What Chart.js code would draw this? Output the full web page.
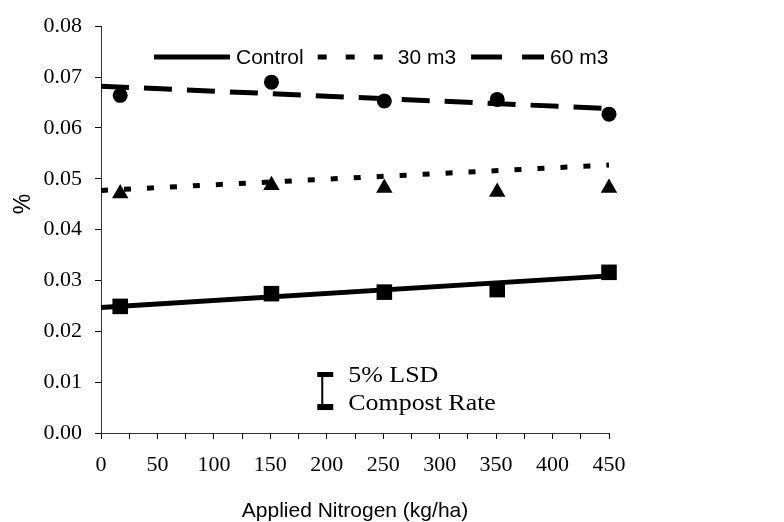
<!DOCTYPE html>
<html>
<head>
<meta charset="utf-8">
<style>
  html, body { margin: 0; padding: 0; background: #fff; }
  #wrap { width: 784px; height: 522px; }
</style>
<script src="https://cdn.jsdelivr.net/npm/chart.js@4.4.1/dist/chart.umd.min.js"></script>
</head>
<body>
<div id="wrap"><canvas id="chart" width="784" height="522"></canvas></div>
<script>
/* ===============================
   DATA
================================ */
const seriesNames = ['Control', '30 m3', '60 m3'];
const nitrogen = [17, 151, 251, 351, 450];
const controlVals = [0.0249, 0.0274, 0.0277, 0.0282, 0.0316];
const m30Vals = [0.0471, 0.0487, 0.0482, 0.0474, 0.0482];
const m60Vals = [0.0664, 0.069, 0.0653, 0.0656, 0.0627];

// trend lines, values at 0 and 450 kg/ha
const trendX = [0, 450];
const controlTrend = [0.0247, 0.0309];
const m30Trend = [0.0477, 0.0527];
const m60Trend = [0.0682, 0.0638];

// 5% LSD bar (compost rate)
const lsdX = 196;
const lsdRange = [0.0051, 0.0118];
const lsdLabels = ['5% LSD', 'Compost Rate'];

const xTitle = 'Applied Nitrogen (kg/ha)';
const yTitle = '%';

/* ===============================
   HELPERS
================================ */
function toPoints(xs, ys) {
  return xs.map((x, i) => ({ x: x, y: ys[i] }));
}

const SERIF = 'Liberation Serif, Times New Roman, serif';
const SANS = 'Liberation Sans, Arial, sans-serif';

function markerSet(name, values, style, radius) {
  return {
    label: name + ' pts',
    data: toPoints(nitrogen, values),
    showLine: false,
    clip: false,
    pointStyle: style,
    pointRadius: radius,
    pointBackgroundColor: '#000',
    pointBorderColor: '#000',
    pointBorderWidth: 0,
    isMarker: true,
  };
}

function trendSet(name, values, dash, legendDash, legendOffset) {
  return {
    label: name,
    data: toPoints(trendX, values),
    showLine: true,
    clip: false,
    borderColor: '#000',
    borderWidth: 5,
    borderDash: dash,
    borderCapStyle: 'butt',
    pointRadius: 0,
    fill: false,
    legendDash: legendDash,
    legendOffset: legendOffset,
  };
}

/* ===============================
   CUSTOM DRAWING (legend, titles, LSD bar)
================================ */
const extrasPlugin = {
  id: 'extras',
  afterDraw(chart) {
    const ctx = chart.ctx;
    const xs = chart.scales.x;
    const ys = chart.scales.y;
    ctx.save();
    ctx.fillStyle = '#000';
    ctx.strokeStyle = '#000';

    // legend
    let lx = 154;
    const ly = 57;
    ctx.font = '21px ' + SANS;
    ctx.textBaseline = 'middle';
    ctx.textAlign = 'left';
    chart.data.datasets
      .filter((d) => !d.isMarker)
      .forEach((d) => {
        ctx.lineWidth = 5;
        ctx.setLineDash(d.legendDash || []);
        ctx.lineDashOffset = d.legendOffset || 0;
        ctx.beginPath();
        ctx.moveTo(lx, ly);
        ctx.lineTo(lx + 76, ly);
        ctx.stroke();
        ctx.setLineDash([]);
        lx += 82;
        ctx.fillText(d.label, lx, ly + 1);
        lx += ctx.measureText(d.label).width + 12;
      });

    // axis titles
    ctx.font = '21px ' + SANS;
    ctx.textAlign = 'center';
    ctx.textBaseline = 'alphabetic';
    ctx.fillText(xTitle, (xs.left + xs.right) / 2, 517);

    ctx.save();
    ctx.translate(30, 204);
    ctx.rotate(-Math.PI / 2);
    ctx.font = '23px ' + SANS;
    ctx.fillText(yTitle, 0, 0);
    ctx.restore();

    // LSD bar
    const bx = xs.getPixelForValue(lsdX);
    const top = ys.getPixelForValue(lsdRange[1]);
    const bot = ys.getPixelForValue(lsdRange[0]);
    ctx.lineWidth = 2;
    ctx.beginPath();
    ctx.moveTo(bx, top);
    ctx.lineTo(bx, bot);
    ctx.stroke();
    ctx.fillRect(bx - 5, top - 1, 16, 5);
    ctx.fillRect(bx - 5, bot - 3, 16, 6);

    ctx.font = '24px ' + SERIF;
    ctx.textAlign = 'left';
    ctx.save();
    ctx.translate(bx + 26, 0);
    ctx.scale(1.08, 1);
    ctx.fillText(lsdLabels[0], 0, top + 9);
    ctx.fillText(lsdLabels[1], 0, bot + 3);
    ctx.restore();

    ctx.restore();
  },
};

/* ===============================
   CHART
================================ */
Chart.defaults.font.family = SERIF;
Chart.defaults.color = '#000';

const chart = new Chart(document.getElementById('chart'), {
  type: 'scatter',
  data: {
    datasets: [
      trendSet(seriesNames[0], controlTrend, [], [], 0),
      trendSet(seriesNames[1], m30Trend, [7, 16], [9, 19], -2),
      trendSet(seriesNames[2], m60Trend, [28, 15], [31, 20], -3),
      markerSet(seriesNames[0], controlVals, 'rect', 11),
      markerSet(seriesNames[1], m30Vals, 'triangle', 9.5),
      markerSet(seriesNames[2], m60Vals, 'circle', 7.5),
    ],
  },
  options: {
    responsive: false,
    devicePixelRatio: 1,
    animation: false,
    layout: { padding: { top: 25, right: 175, left: 0, bottom: 0 } },
    plugins: {
      legend: { display: false },
      tooltip: { enabled: false },
    },
    scales: {
      x: {
        type: 'linear',
        min: 0,
        max: 450,
        afterFit: (s) => { s.height = 89; },
        border: { display: true, color: '#333', width: 1 },
        grid: { drawOnChartArea: false, drawTicks: true, tickLength: 6, color: '#000' },
        ticks: {
          stepSize: 25,
          autoSkip: false,
          maxRotation: 0,
          padding: 13,
          font: { size: 22 },
          callback: (v) => (v % 50 === 0 ? String(v) : ''),
        },
      },
      y: {
        type: 'linear',
        min: 0,
        max: 0.08,
        afterFit: (s) => { s.width = 101; },
        border: { display: true, color: '#333', width: 1 },
        grid: { drawOnChartArea: false, drawTicks: true, tickLength: 6, color: '#000' },
        ticks: {
          stepSize: 0.01,
          padding: 13,
          font: { size: 22 },
          callback: (v) => Number(v).toFixed(2),
        },
      },
    },
  },
  plugins: [extrasPlugin],
});
</script>
</body>
</html>
